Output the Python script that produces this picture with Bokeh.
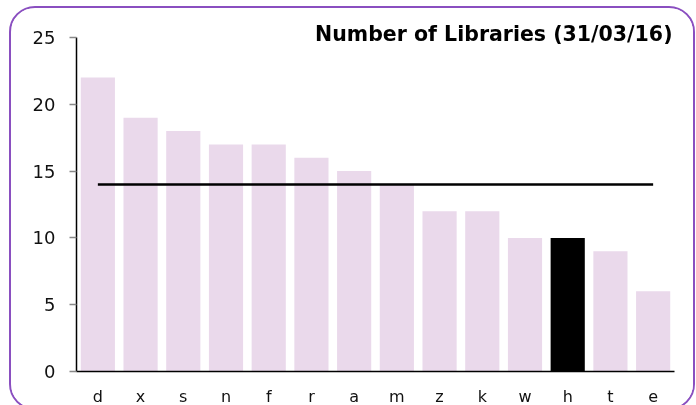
from bokeh.plotting import figure
from bokeh.models import FactorRange, Range1d, FixedTicker, ColumnDataSource
from bokeh.embed import file_html
from bokeh.resources import INLINE

categories = ["d", "x", "s", "n", "f", "r", "a", "m", "z", "k", "w", "h", "t", "e"]
libraries = [22, 19, 18, 17, 17, 16, 15, 14, 12, 12, 10, 10, 9, 6]
highlight = "h"
average = 14
title_text = "Number of Libraries (31/03/16)"
y_ticks = [0, 5, 10, 15, 20, 25]

bar_color = "#EAD9EB"
hi_color = "#000000"
colors = [hi_color if c == highlight else bar_color for c in categories]

src = ColumnDataSource(dict(cat=categories, val=libraries, color=colors))

p = figure(width=686, height=404, x_range=FactorRange(*categories, range_padding=0),
           y_range=Range1d(0, 25), output_backend="svg", toolbar_location=None,
           min_border_left=65, min_border_right=23, min_border_top=29, min_border_bottom=41)
p.styles = {"border": "2px solid #8A4FC0", "border-radius": "26px", "overflow": "hidden",
            "position": "fixed", "left": "9px", "top": "6px"}
p.outline_line_color = None
p.xgrid.grid_line_color = None
p.ygrid.grid_line_color = None
p.background_fill_color = "white"
p.border_fill_color = "white"

p.vbar(x="cat", top="val", width=0.8, fill_color="color", line_color=None, source=src)
p.line(x=categories, y=[average] * len(categories), line_color="black", line_width=2.5)

font = "DejaVu Sans"
p.title.text = title_text
p.title.align = "right"
p.title.text_font = font
p.title.text_font_style = "bold"
p.title.text_font_size = "20.5px"
p.title.text_color = "black"
p.title.standoff = -16
p.title.offset = 2

p.yaxis.ticker = FixedTicker(ticks=y_ticks)
p.yaxis.minor_tick_line_color = None
p.yaxis.major_tick_in = 0
p.yaxis.major_tick_out = 7
p.yaxis.major_tick_line_color = "#888888"
p.yaxis.major_tick_line_width = 1.5
p.yaxis.axis_line_color = "black"
p.yaxis.axis_line_width = 1.5
p.yaxis.major_label_text_font = font
p.yaxis.major_label_text_font_size = "18px"
p.yaxis.major_label_text_color = "#111111"
p.yaxis.major_label_standoff = 14

p.xaxis.major_tick_line_color = None
p.xaxis.major_tick_out = 0
p.xaxis.major_tick_in = 0
p.xaxis.minor_tick_line_color = None
p.xaxis.axis_line_color = "black"
p.xaxis.axis_line_width = 1.5
p.xaxis.major_label_text_font = font
p.xaxis.major_label_text_font_size = "16px"
p.xaxis.major_label_text_color = "#111111"
p.xaxis.major_label_standoff = 15

open("out.html", "w").write(file_html(p, INLINE))
